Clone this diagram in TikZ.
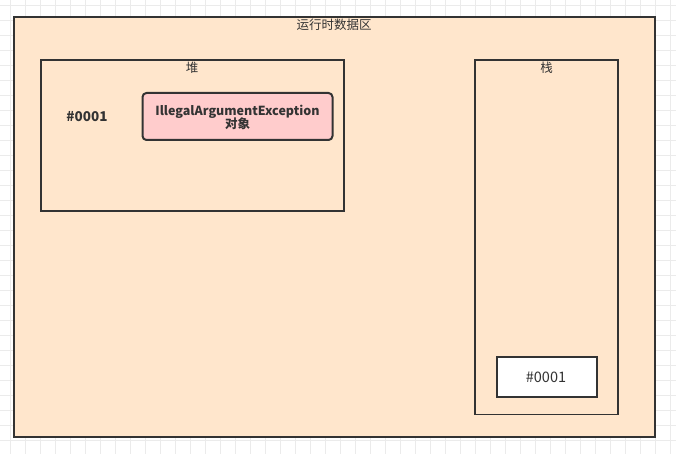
\documentclass[tikz,border=0pt]{standalone}
\usepackage{fontspec}
\setmainfont{Noto Sans CJK SC}
\definecolor{peach}{HTML}{FFE6CC}
\definecolor{pinkfill}{HTML}{FFCCCC}
\definecolor{edge}{HTML}{333333}
\definecolor{gridc}{HTML}{EBEBEB}
\begin{document}
\begin{tikzpicture}[x=1pt,y=-1pt,
  box/.style={draw=edge,line width=2pt},
  lbl/.style={text=edge,font=\fontsize{12.5}{14}\selectfont,inner sep=0pt},
  blbl/.style={text=edge,font=\fontsize{12.5}{14}\selectfont\bfseries,inner sep=0pt,align=center}]
\useasboundingbox (0,0) rectangle (676,454);
\fill[white] (0,0) rectangle (676,454);
\foreach \i in {0,...,44} {\draw[gridc,line width=0.8pt] ({10+15*\i},0) -- ({10+15*\i},454);}
\foreach \j in {0,...,30} {\draw[gridc,line width=0.8pt] (0,{5+15*\j}) -- (676,{5+15*\j});}
% outer
\draw[box,fill=peach] (14,17) rectangle (655,437);
\node[lbl] (title) at (334,25) {运行时数据区};
% heap
\draw[box] (41,60) rectangle (343.5,210.5);
\node[lbl] (heap) at (192,68) {堆};
\node[blbl,font=\fontsize{13.5}{15}\selectfont\bfseries] (ref1) at (87,117) {\#0001};
\draw[box,fill=pinkfill,rounded corners=4pt] (142.5,93) rectangle (332.5,140);
\node[blbl] (obj) at (237.5,117.5) {IllegalArgumentException\\[-1pt]对象};
% stack
\draw[box,line width=1.8pt] (475,60) rectangle (618,414.5);
\node[lbl] (stack) at (546.5,68) {栈};
\draw[box,fill=white] (497,357) rectangle (597,396.5);
\node[lbl,font=\fontsize{14.5}{16}\selectfont] (ref2) at (546,377) {\#0001};
\end{tikzpicture}
\end{document}
